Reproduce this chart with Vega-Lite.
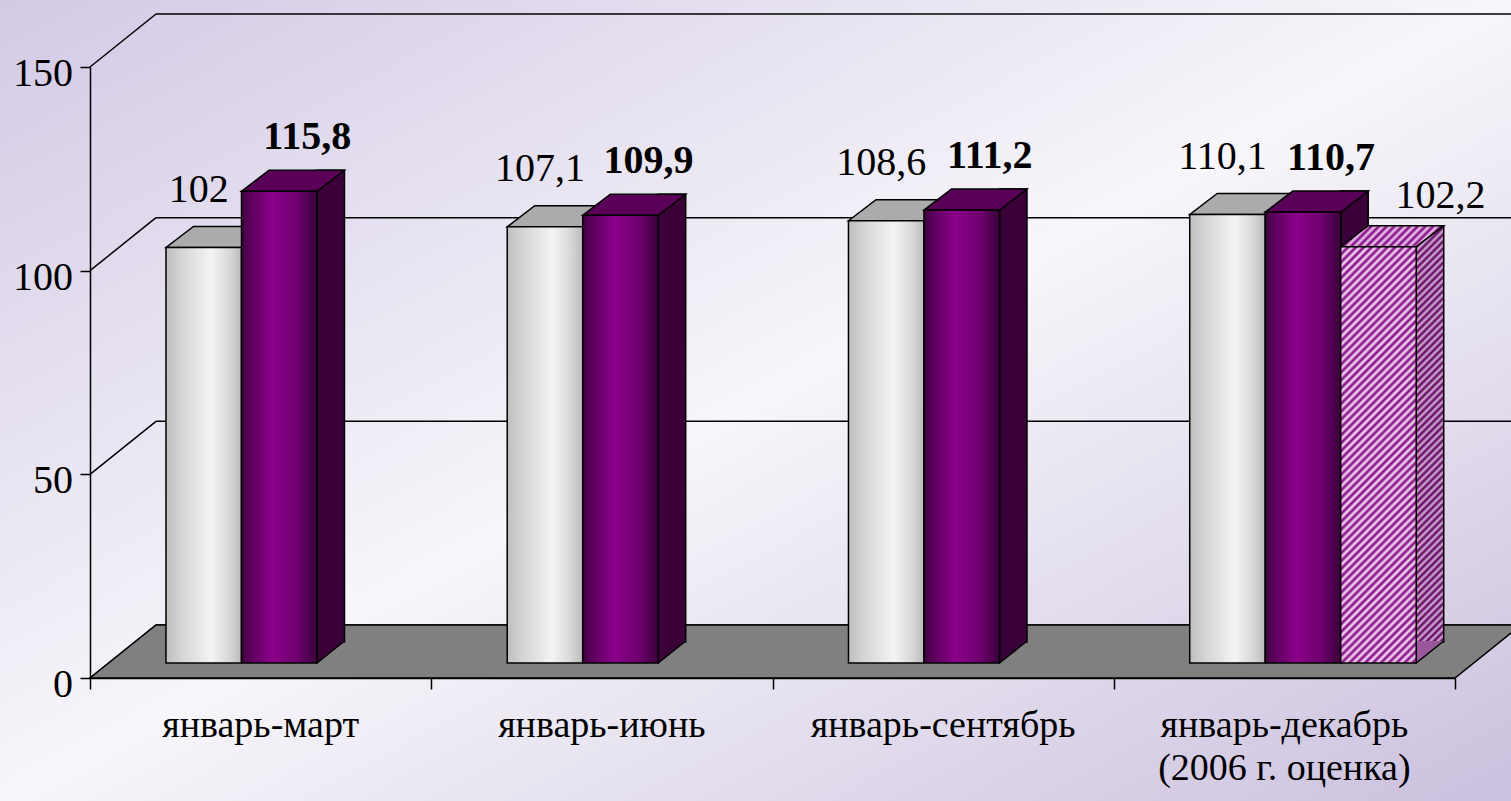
{
  "$schema": "https://vega.github.io/schema/vega-lite/v6.json",
  "width": 1511,
  "height": 801,
  "autosize": "none",
  "padding": 0,
  "background": "#e8e4f0",
  "config": {
    "view": {
      "stroke": null,
      "fill": {"gradient": "linear", "x1": 0, "y1": 0, "x2": 1, "y2": 1,
        "stops": [{"offset": 0, "color": "#d3c9e5"}, {"offset": 0.5, "color": "#f7f6fa"}, {"offset": 1, "color": "#cbc0de"}]}
    },
    "font": "Liberation Serif",
    "locale": {"number": {"decimal": ",", "thousands": " ", "grouping": [3], "currency": ["", ""]}}
  },
  "datasets": {
    "bars": [
      {"cat": "январь-март", "series": "серия 1", "value": 102},
      {"cat": "январь-март", "series": "серия 2", "value": 115.8},
      {"cat": "январь-июнь", "series": "серия 1", "value": 107.1},
      {"cat": "январь-июнь", "series": "серия 2", "value": 109.9},
      {"cat": "январь-сентябрь", "series": "серия 1", "value": 108.6},
      {"cat": "январь-сентябрь", "series": "серия 2", "value": 111.2},
      {"cat": "январь-декабрь\n(2006 г. оценка)", "series": "серия 1", "value": 110.1},
      {"cat": "январь-декабрь\n(2006 г. оценка)", "series": "серия 2", "value": 110.7},
      {"cat": "январь-декабрь\n(2006 г. оценка)", "series": "серия 3", "value": 102.2}
    ],
    "cats": [
      {"cat": "январь-март"},
      {"cat": "январь-июнь"},
      {"cat": "январь-сентябрь"},
      {"cat": "январь-декабрь\n(2006 г. оценка)"}
    ],
    "grid": [{"level": 0}, {"level": 50}, {"level": 100}, {"level": 150}],
    "floor": [{"level": 0}]
  },
  "encoding": {
    "x": {
      "scale": {"type": "band", "domain": ["январь-март", "январь-июнь", "январь-сентябрь", "январь-декабрь\n(2006 г. оценка)"], "range": [90, 1455], "paddingInner": 0, "paddingOuter": 0},
      "axis": {"title": null, "orient": "bottom", "offset": -123, "zindex": 1, "domainColor": "#000000", "domainWidth": 1.5, "tickColor": "#000000", "tickWidth": 1.5, "tickSize": 11, "tickBand": "extent", "labels": false}
    },
    "y": {
      "scale": {"type": "linear", "domain": [0, 150], "range": [678, 67], "nice": false, "zero": false},
      "axis": {"title": null, "orient": "left", "offset": -90, "zindex": 1, "values": [0, 50, 100, 150], "grid": false, "domainColor": "#000000", "domainWidth": 1.5, "tickColor": "#000000", "tickWidth": 1.5, "tickSize": 10, "labels": false}
    }
  },
  "layer": [
    {
      "data": {"name": "grid"},
      "mark": {"type": "rule", "color": "#000000", "strokeWidth": 1.5, "xOffset": 66, "yOffset": -53},
      "encoding": {
        "x": {"datum": "январь-март", "type": "nominal", "bandPosition": 0},
        "x2": {"value": "width"},
        "y": {"field": "level", "type": "quantitative"}
      }
    },
    {
      "data": {"name": "grid"},
      "mark": {"type": "point", "shape": "M-1,0.803L1,-0.803", "size": 4356, "filled": false, "stroke": "#000000", "strokeWidth": 1.5, "opacity": 1, "xOffset": 33, "yOffset": -26.5},
      "encoding": {
        "x": {"datum": "январь-март", "type": "nominal", "bandPosition": 0},
        "y": {"field": "level", "type": "quantitative"}
      }
    },
    {
      "data": {"name": "grid"},
      "mark": {"type": "text", "font": "Liberation Serif", "fontSize": 40, "color": "#000000", "align": "right", "baseline": "middle", "dx": -17, "dy": 7},
      "encoding": {
        "x": {"datum": "январь-март", "type": "nominal", "bandPosition": 0},
        "y": {"field": "level", "type": "quantitative"},
        "text": {"field": "level", "type": "quantitative", "format": "d"}
      }
    },
    {
      "data": {"name": "cats"},
      "mark": {"type": "text", "font": "Liberation Serif", "fontSize": 38, "color": "#000000", "align": "center", "baseline": "alphabetic", "dy": 59, "lineBreak": "\n", "lineHeight": 43},
      "encoding": {
        "x": {"field": "cat", "type": "nominal"},
        "y": {"datum": 0, "type": "quantitative"},
        "text": {"field": "cat", "type": "nominal"}
      }
    },
    {
      "data": {"name": "floor"},
      "mark": {"type": "point", "shape": "M-1,0.03704L0.9078,0.03704L1,-0.03704L-0.9078,-0.03704Z", "size": 2047761, "filled": true, "fill": "#808080", "stroke": "#000000", "strokeWidth": 1.5, "opacity": 1, "xOffset": 33, "yOffset": -26.5},
      "encoding": {
        "x": {"datum": "январь-июнь", "type": "nominal", "bandPosition": 1},
        "y": {"field": "level", "type": "quantitative"}
      }
    },
    {
      "data": {"name": "bars"},
      "transform": [{"filter": "datum.series === 'серия 2'"}],
      "mark": {"type": "bar", "width": 27.5, "xOffset": 70.1, "yOffset": -36, "y2Offset": -36, "stroke": "#000000", "strokeWidth": 1.5, "fill": "#3a0038"},
      "encoding": {
        "x": {"field": "cat", "type": "nominal"},
        "y": {"field": "value", "type": "quantitative"}
      }
    },
    {
      "data": {"name": "bars"},
      "transform": [{"filter": "datum.series === 'серия 3'"}],
      "mark": {"type": "bar", "width": 27.5, "xOffset": 145.6, "yOffset": -36, "y2Offset": -36, "stroke": "#000000", "strokeWidth": 1.5,
        "fill": {"gradient": "linear", "x1": 0, "y1": 0, "x2": 0.0701, "y2": 1.0615,
          "stops": [
            {"offset": 0, "color": "#5a005a"}, {"offset": 0.008, "color": "#d8b0d8"}, {"offset": 0.016, "color": "#5a005a"}, {"offset": 0.024, "color": "#d8b0d8"},
            {"offset": 0.032, "color": "#5a005a"}, {"offset": 0.04, "color": "#d8b0d8"}, {"offset": 0.048, "color": "#5a005a"}, {"offset": 0.056, "color": "#d8b0d8"},
            {"offset": 0.064, "color": "#5a005a"}, {"offset": 0.072, "color": "#d8b0d8"}, {"offset": 0.08, "color": "#5a005a"}, {"offset": 0.088, "color": "#d8b0d8"},
            {"offset": 0.096, "color": "#5a005a"}, {"offset": 0.104, "color": "#d8b0d8"}, {"offset": 0.112, "color": "#5a005a"}, {"offset": 0.12, "color": "#d8b0d8"},
            {"offset": 0.128, "color": "#5a005a"}, {"offset": 0.136, "color": "#d8b0d8"}, {"offset": 0.144, "color": "#5a005a"}, {"offset": 0.152, "color": "#d8b0d8"},
            {"offset": 0.16, "color": "#5a005a"}, {"offset": 0.168, "color": "#d8b0d8"}, {"offset": 0.176, "color": "#5a005a"}, {"offset": 0.184, "color": "#d8b0d8"},
            {"offset": 0.192, "color": "#5a005a"}, {"offset": 0.2, "color": "#d8b0d8"}, {"offset": 0.208, "color": "#5a005a"}, {"offset": 0.216, "color": "#d8b0d8"},
            {"offset": 0.224, "color": "#5a005a"}, {"offset": 0.232, "color": "#d8b0d8"}, {"offset": 0.24, "color": "#5a005a"}, {"offset": 0.248, "color": "#d8b0d8"},
            {"offset": 0.256, "color": "#5a005a"}, {"offset": 0.264, "color": "#d8b0d8"}, {"offset": 0.272, "color": "#5a005a"}, {"offset": 0.28, "color": "#d8b0d8"},
            {"offset": 0.288, "color": "#5a005a"}, {"offset": 0.296, "color": "#d8b0d8"}, {"offset": 0.304, "color": "#5a005a"}, {"offset": 0.312, "color": "#d8b0d8"},
            {"offset": 0.32, "color": "#5a005a"}, {"offset": 0.328, "color": "#d8b0d8"}, {"offset": 0.336, "color": "#5a005a"}, {"offset": 0.344, "color": "#d8b0d8"},
            {"offset": 0.352, "color": "#5a005a"}, {"offset": 0.36, "color": "#d8b0d8"}, {"offset": 0.368, "color": "#5a005a"}, {"offset": 0.376, "color": "#d8b0d8"},
            {"offset": 0.384, "color": "#5a005a"}, {"offset": 0.392, "color": "#d8b0d8"}, {"offset": 0.4, "color": "#5a005a"}, {"offset": 0.408, "color": "#d8b0d8"},
            {"offset": 0.416, "color": "#5a005a"}, {"offset": 0.424, "color": "#d8b0d8"}, {"offset": 0.432, "color": "#5a005a"}, {"offset": 0.44, "color": "#d8b0d8"},
            {"offset": 0.448, "color": "#5a005a"}, {"offset": 0.456, "color": "#d8b0d8"}, {"offset": 0.464, "color": "#5a005a"}, {"offset": 0.472, "color": "#d8b0d8"},
            {"offset": 0.48, "color": "#5a005a"}, {"offset": 0.488, "color": "#d8b0d8"}, {"offset": 0.496, "color": "#5a005a"}, {"offset": 0.504, "color": "#d8b0d8"},
            {"offset": 0.512, "color": "#5a005a"}, {"offset": 0.52, "color": "#d8b0d8"}, {"offset": 0.528, "color": "#5a005a"}, {"offset": 0.536, "color": "#d8b0d8"},
            {"offset": 0.544, "color": "#5a005a"}, {"offset": 0.552, "color": "#d8b0d8"}, {"offset": 0.56, "color": "#5a005a"}, {"offset": 0.568, "color": "#d8b0d8"},
            {"offset": 0.576, "color": "#5a005a"}, {"offset": 0.584, "color": "#d8b0d8"}, {"offset": 0.592, "color": "#5a005a"}, {"offset": 0.6, "color": "#d8b0d8"},
            {"offset": 0.608, "color": "#5a005a"}, {"offset": 0.616, "color": "#d8b0d8"}, {"offset": 0.624, "color": "#5a005a"}, {"offset": 0.632, "color": "#d8b0d8"},
            {"offset": 0.64, "color": "#5a005a"}, {"offset": 0.648, "color": "#d8b0d8"}, {"offset": 0.656, "color": "#5a005a"}, {"offset": 0.664, "color": "#d8b0d8"},
            {"offset": 0.672, "color": "#5a005a"}, {"offset": 0.68, "color": "#d8b0d8"}, {"offset": 0.688, "color": "#5a005a"}, {"offset": 0.696, "color": "#d8b0d8"},
            {"offset": 0.704, "color": "#5a005a"}, {"offset": 0.712, "color": "#d8b0d8"}, {"offset": 0.72, "color": "#5a005a"}, {"offset": 0.728, "color": "#d8b0d8"},
            {"offset": 0.736, "color": "#5a005a"}, {"offset": 0.744, "color": "#d8b0d8"}, {"offset": 0.752, "color": "#5a005a"}, {"offset": 0.76, "color": "#d8b0d8"},
            {"offset": 0.768, "color": "#5a005a"}, {"offset": 0.776, "color": "#d8b0d8"}, {"offset": 0.784, "color": "#5a005a"}, {"offset": 0.792, "color": "#d8b0d8"},
            {"offset": 0.8, "color": "#5a005a"}, {"offset": 0.808, "color": "#d8b0d8"}, {"offset": 0.816, "color": "#5a005a"}, {"offset": 0.824, "color": "#d8b0d8"},
            {"offset": 0.832, "color": "#5a005a"}, {"offset": 0.84, "color": "#d8b0d8"}, {"offset": 0.848, "color": "#5a005a"}, {"offset": 0.856, "color": "#d8b0d8"},
            {"offset": 0.864, "color": "#5a005a"}, {"offset": 0.872, "color": "#d8b0d8"}, {"offset": 0.88, "color": "#5a005a"}, {"offset": 0.888, "color": "#d8b0d8"},
            {"offset": 0.896, "color": "#5a005a"}, {"offset": 0.904, "color": "#d8b0d8"}, {"offset": 0.912, "color": "#5a005a"}, {"offset": 0.92, "color": "#d8b0d8"},
            {"offset": 0.928, "color": "#5a005a"}, {"offset": 0.936, "color": "#d8b0d8"}, {"offset": 0.944, "color": "#5a005a"}, {"offset": 0.952, "color": "#d8b0d8"},
            {"offset": 0.96, "color": "#5a005a"}, {"offset": 0.968, "color": "#d8b0d8"}, {"offset": 0.976, "color": "#5a005a"}, {"offset": 0.984, "color": "#d8b0d8"},
            {"offset": 0.992, "color": "#5a005a"}, {"offset": 1, "color": "#d8b0d8"}
          ]}},
      "encoding": {
        "x": {"field": "cat", "type": "nominal"},
        "y": {"field": "value", "type": "quantitative"}
      }
    },
    {
      "data": {"name": "bars"},
      "transform": [{"filter": "datum.series === 'серия 2'"}],
      "mark": {"type": "point", "shape": "M1,-0.8L-1,0.8L-1,-0.8", "size": 756.25, "filled": true, "fill": "#3a0038", "stroke": "#000000", "strokeWidth": 1.5, "opacity": 1, "xOffset": 70.1, "yOffset": -26},
      "encoding": {
        "x": {"field": "cat", "type": "nominal"},
        "y": {"datum": 0, "type": "quantitative"}
      }
    },
    {
      "data": {"name": "bars"},
      "transform": [{"filter": "datum.series === 'серия 3'"}],
      "mark": {"type": "point", "shape": "M1,-0.8L-1,0.8L-1,-0.8", "size": 756.25, "filled": true, "fill": "#995899", "stroke": "#000000", "strokeWidth": 1.5, "opacity": 1, "xOffset": 145.6, "yOffset": -26},
      "encoding": {
        "x": {"field": "cat", "type": "nominal"},
        "y": {"datum": 0, "type": "quantitative"}
      }
    },
    {
      "data": {"name": "bars"},
      "transform": [{"filter": "datum.series === 'серия 1'"}],
      "mark": {"type": "point", "shape": "M-1,0.2039L0.466,0.2039L1,-0.2039L-0.466,-0.2039Z", "size": 10609, "filled": true, "fill": "#ababab", "stroke": "#000000", "strokeWidth": 1.5, "opacity": 1, "xOffset": -43.1, "yOffset": -25.5},
      "encoding": {
        "x": {"field": "cat", "type": "nominal"},
        "y": {"field": "value", "type": "quantitative"}
      }
    },
    {
      "data": {"name": "bars"},
      "transform": [{"filter": "datum.series === 'серия 2'"}],
      "mark": {"type": "point", "shape": "M-1,0.2039L0.466,0.2039L1,-0.2039L-0.466,-0.2039Z", "size": 10609, "filled": true, "fill": "#5a0058", "stroke": "#000000", "strokeWidth": 1.5, "opacity": 1, "xOffset": 32.4, "yOffset": -25.5},
      "encoding": {
        "x": {"field": "cat", "type": "nominal"},
        "y": {"field": "value", "type": "quantitative"}
      }
    },
    {
      "data": {"name": "bars"},
      "transform": [{"filter": "datum.series === 'серия 3'"}],
      "mark": {"type": "point", "shape": "M-1,0.2039L0.466,0.2039L1,-0.2039L-0.466,-0.2039Z", "size": 10609, "filled": true, "stroke": "#000000", "strokeWidth": 1.5, "opacity": 1, "xOffset": 107.9, "yOffset": -25.5,
        "fill": {"gradient": "linear", "x1": 0, "y1": 0, "x2": 1.1558, "y2": 0.2357,
          "stops": [
            {"offset": 0, "color": "#800080"}, {"offset": 0.03125, "color": "#f0d0f0"}, {"offset": 0.0625, "color": "#800080"}, {"offset": 0.09375, "color": "#f0d0f0"},
            {"offset": 0.125, "color": "#800080"}, {"offset": 0.15625, "color": "#f0d0f0"}, {"offset": 0.1875, "color": "#800080"}, {"offset": 0.21875, "color": "#f0d0f0"},
            {"offset": 0.25, "color": "#800080"}, {"offset": 0.28125, "color": "#f0d0f0"}, {"offset": 0.3125, "color": "#800080"}, {"offset": 0.34375, "color": "#f0d0f0"},
            {"offset": 0.375, "color": "#800080"}, {"offset": 0.40625, "color": "#f0d0f0"}, {"offset": 0.4375, "color": "#800080"}, {"offset": 0.46875, "color": "#f0d0f0"},
            {"offset": 0.5, "color": "#800080"}, {"offset": 0.53125, "color": "#f0d0f0"}, {"offset": 0.5625, "color": "#800080"}, {"offset": 0.59375, "color": "#f0d0f0"},
            {"offset": 0.625, "color": "#800080"}, {"offset": 0.65625, "color": "#f0d0f0"}, {"offset": 0.6875, "color": "#800080"}, {"offset": 0.71875, "color": "#f0d0f0"},
            {"offset": 0.75, "color": "#800080"}, {"offset": 0.78125, "color": "#f0d0f0"}, {"offset": 0.8125, "color": "#800080"}, {"offset": 0.84375, "color": "#f0d0f0"},
            {"offset": 0.875, "color": "#800080"}, {"offset": 0.90625, "color": "#f0d0f0"}, {"offset": 0.9375, "color": "#800080"}, {"offset": 0.96875, "color": "#f0d0f0"},
            {"offset": 1, "color": "#800080"}
          ]}},
      "encoding": {
        "x": {"field": "cat", "type": "nominal"},
        "y": {"field": "value", "type": "quantitative"}
      }
    },
    {
      "data": {"name": "bars"},
      "transform": [{"filter": "datum.series === 'серия 1'"}],
      "mark": {"type": "bar", "width": 75.5, "xOffset": -56.9, "yOffset": -15, "y2Offset": -15, "stroke": "#000000", "strokeWidth": 1.5,
        "fill": {"gradient": "linear", "x1": 0, "y1": 0, "x2": 1, "y2": 0,
          "stops": [{"offset": 0, "color": "#bebebe"}, {"offset": 0.2, "color": "#d4d4d4"}, {"offset": 0.6, "color": "#f4f4f4"}, {"offset": 0.85, "color": "#d6d6d6"}, {"offset": 1, "color": "#bababa"}]}},
      "encoding": {
        "x": {"field": "cat", "type": "nominal"},
        "y": {"field": "value", "type": "quantitative"}
      }
    },
    {
      "data": {"name": "bars"},
      "transform": [{"filter": "datum.series === 'серия 2'"}],
      "mark": {"type": "bar", "width": 75.5, "xOffset": 18.6, "yOffset": -15, "y2Offset": -15, "stroke": "#000000", "strokeWidth": 1.5,
        "fill": {"gradient": "linear", "x1": 0, "y1": 0, "x2": 1, "y2": 0,
          "stops": [{"offset": 0, "color": "#3e003e"}, {"offset": 0.12, "color": "#5c005c"}, {"offset": 0.42, "color": "#8a008a"}, {"offset": 0.75, "color": "#6e006e"}, {"offset": 1, "color": "#3a003a"}]}},
      "encoding": {
        "x": {"field": "cat", "type": "nominal"},
        "y": {"field": "value", "type": "quantitative"}
      }
    },
    {
      "data": {"name": "bars"},
      "transform": [{"filter": "datum.series === 'серия 3'"}],
      "mark": {"type": "bar", "width": 75.5, "xOffset": 94.1, "yOffset": -15, "y2Offset": -15, "stroke": "#000000", "strokeWidth": 1.5,
        "fill": {"gradient": "linear", "x1": 0, "y1": 0, "x2": 0.2074, "y2": 1.1437,
          "stops": [
            {"offset": 0, "color": "#800080"}, {"offset": 0.008, "color": "#f8e4f8"}, {"offset": 0.016, "color": "#800080"}, {"offset": 0.024, "color": "#f8e4f8"},
            {"offset": 0.032, "color": "#800080"}, {"offset": 0.04, "color": "#f8e4f8"}, {"offset": 0.048, "color": "#800080"}, {"offset": 0.056, "color": "#f8e4f8"},
            {"offset": 0.064, "color": "#800080"}, {"offset": 0.072, "color": "#f8e4f8"}, {"offset": 0.08, "color": "#800080"}, {"offset": 0.088, "color": "#f8e4f8"},
            {"offset": 0.096, "color": "#800080"}, {"offset": 0.104, "color": "#f8e4f8"}, {"offset": 0.112, "color": "#800080"}, {"offset": 0.12, "color": "#f8e4f8"},
            {"offset": 0.128, "color": "#800080"}, {"offset": 0.136, "color": "#f8e4f8"}, {"offset": 0.144, "color": "#800080"}, {"offset": 0.152, "color": "#f8e4f8"},
            {"offset": 0.16, "color": "#800080"}, {"offset": 0.168, "color": "#f8e4f8"}, {"offset": 0.176, "color": "#800080"}, {"offset": 0.184, "color": "#f8e4f8"},
            {"offset": 0.192, "color": "#800080"}, {"offset": 0.2, "color": "#f8e4f8"}, {"offset": 0.208, "color": "#800080"}, {"offset": 0.216, "color": "#f8e4f8"},
            {"offset": 0.224, "color": "#800080"}, {"offset": 0.232, "color": "#f8e4f8"}, {"offset": 0.24, "color": "#800080"}, {"offset": 0.248, "color": "#f8e4f8"},
            {"offset": 0.256, "color": "#800080"}, {"offset": 0.264, "color": "#f8e4f8"}, {"offset": 0.272, "color": "#800080"}, {"offset": 0.28, "color": "#f8e4f8"},
            {"offset": 0.288, "color": "#800080"}, {"offset": 0.296, "color": "#f8e4f8"}, {"offset": 0.304, "color": "#800080"}, {"offset": 0.312, "color": "#f8e4f8"},
            {"offset": 0.32, "color": "#800080"}, {"offset": 0.328, "color": "#f8e4f8"}, {"offset": 0.336, "color": "#800080"}, {"offset": 0.344, "color": "#f8e4f8"},
            {"offset": 0.352, "color": "#800080"}, {"offset": 0.36, "color": "#f8e4f8"}, {"offset": 0.368, "color": "#800080"}, {"offset": 0.376, "color": "#f8e4f8"},
            {"offset": 0.384, "color": "#800080"}, {"offset": 0.392, "color": "#f8e4f8"}, {"offset": 0.4, "color": "#800080"}, {"offset": 0.408, "color": "#f8e4f8"},
            {"offset": 0.416, "color": "#800080"}, {"offset": 0.424, "color": "#f8e4f8"}, {"offset": 0.432, "color": "#800080"}, {"offset": 0.44, "color": "#f8e4f8"},
            {"offset": 0.448, "color": "#800080"}, {"offset": 0.456, "color": "#f8e4f8"}, {"offset": 0.464, "color": "#800080"}, {"offset": 0.472, "color": "#f8e4f8"},
            {"offset": 0.48, "color": "#800080"}, {"offset": 0.488, "color": "#f8e4f8"}, {"offset": 0.496, "color": "#800080"}, {"offset": 0.504, "color": "#f8e4f8"},
            {"offset": 0.512, "color": "#800080"}, {"offset": 0.52, "color": "#f8e4f8"}, {"offset": 0.528, "color": "#800080"}, {"offset": 0.536, "color": "#f8e4f8"},
            {"offset": 0.544, "color": "#800080"}, {"offset": 0.552, "color": "#f8e4f8"}, {"offset": 0.56, "color": "#800080"}, {"offset": 0.568, "color": "#f8e4f8"},
            {"offset": 0.576, "color": "#800080"}, {"offset": 0.584, "color": "#f8e4f8"}, {"offset": 0.592, "color": "#800080"}, {"offset": 0.6, "color": "#f8e4f8"},
            {"offset": 0.608, "color": "#800080"}, {"offset": 0.616, "color": "#f8e4f8"}, {"offset": 0.624, "color": "#800080"}, {"offset": 0.632, "color": "#f8e4f8"},
            {"offset": 0.64, "color": "#800080"}, {"offset": 0.648, "color": "#f8e4f8"}, {"offset": 0.656, "color": "#800080"}, {"offset": 0.664, "color": "#f8e4f8"},
            {"offset": 0.672, "color": "#800080"}, {"offset": 0.68, "color": "#f8e4f8"}, {"offset": 0.688, "color": "#800080"}, {"offset": 0.696, "color": "#f8e4f8"},
            {"offset": 0.704, "color": "#800080"}, {"offset": 0.712, "color": "#f8e4f8"}, {"offset": 0.72, "color": "#800080"}, {"offset": 0.728, "color": "#f8e4f8"},
            {"offset": 0.736, "color": "#800080"}, {"offset": 0.744, "color": "#f8e4f8"}, {"offset": 0.752, "color": "#800080"}, {"offset": 0.76, "color": "#f8e4f8"},
            {"offset": 0.768, "color": "#800080"}, {"offset": 0.776, "color": "#f8e4f8"}, {"offset": 0.784, "color": "#800080"}, {"offset": 0.792, "color": "#f8e4f8"},
            {"offset": 0.8, "color": "#800080"}, {"offset": 0.808, "color": "#f8e4f8"}, {"offset": 0.816, "color": "#800080"}, {"offset": 0.824, "color": "#f8e4f8"},
            {"offset": 0.832, "color": "#800080"}, {"offset": 0.84, "color": "#f8e4f8"}, {"offset": 0.848, "color": "#800080"}, {"offset": 0.856, "color": "#f8e4f8"},
            {"offset": 0.864, "color": "#800080"}, {"offset": 0.872, "color": "#f8e4f8"}, {"offset": 0.88, "color": "#800080"}, {"offset": 0.888, "color": "#f8e4f8"},
            {"offset": 0.896, "color": "#800080"}, {"offset": 0.904, "color": "#f8e4f8"}, {"offset": 0.912, "color": "#800080"}, {"offset": 0.92, "color": "#f8e4f8"},
            {"offset": 0.928, "color": "#800080"}, {"offset": 0.936, "color": "#f8e4f8"}, {"offset": 0.944, "color": "#800080"}, {"offset": 0.952, "color": "#f8e4f8"},
            {"offset": 0.96, "color": "#800080"}, {"offset": 0.968, "color": "#f8e4f8"}, {"offset": 0.976, "color": "#800080"}, {"offset": 0.984, "color": "#f8e4f8"},
            {"offset": 0.992, "color": "#800080"}, {"offset": 1, "color": "#f8e4f8"}
          ]}},
      "encoding": {
        "x": {"field": "cat", "type": "nominal"},
        "y": {"field": "value", "type": "quantitative"}
      }
    },
    {
      "data": {"name": "bars"},
      "transform": [{"filter": "datum.series === 'серия 1'"}],
      "mark": {"type": "text", "font": "Liberation Serif", "fontSize": 40, "color": "#000000", "baseline": "alphabetic", "align": "center", "dx": -62, "dy": -61},
      "encoding": {
        "x": {"field": "cat", "type": "nominal"},
        "y": {"field": "value", "type": "quantitative"},
        "text": {"field": "value", "type": "quantitative", "format": ".1~f"}
      }
    },
    {
      "data": {"name": "bars"},
      "transform": [{"filter": "datum.series === 'серия 2'"}],
      "mark": {"type": "text", "font": "Liberation Serif", "fontSize": 40, "fontWeight": "bold", "color": "#000000", "baseline": "alphabetic", "align": "center", "dx": 46.6, "dy": -57},
      "encoding": {
        "x": {"field": "cat", "type": "nominal"},
        "y": {"field": "value", "type": "quantitative"},
        "text": {"field": "value", "type": "quantitative", "format": ".1~f"}
      }
    },
    {
      "data": {"name": "bars"},
      "transform": [{"filter": "datum.series === 'серия 3'"}],
      "mark": {"type": "text", "font": "Liberation Serif", "fontSize": 40, "color": "#000000", "baseline": "alphabetic", "align": "center", "dx": 156, "dy": -54},
      "encoding": {
        "x": {"field": "cat", "type": "nominal"},
        "y": {"field": "value", "type": "quantitative"},
        "text": {"field": "value", "type": "quantitative", "format": ".1~f"}
      }
    }
  ]
}
